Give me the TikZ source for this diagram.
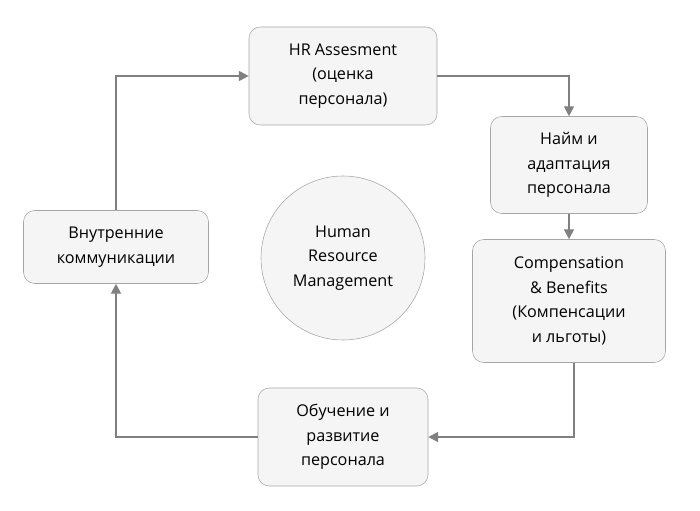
\documentclass[tikz,border=0pt]{standalone}
\usepackage{fontspec}
\setmainfont{Open Sans}
\usetikzlibrary{arrows.meta}
\tikzset{box/.style={rectangle, rounded corners=8pt, draw=gray!70, fill=gray!8, align=center, font=\fontsize{11.5}{17.5}\selectfont, inner sep=0pt},
arrow/.style={draw=gray, line width=1.4pt, -{Triangle[length=7pt,width=7pt]}}}
\begin{document}
\begin{tikzpicture}[x=0.025cm,y=-0.025cm]
\useasboundingbox (0,0) rectangle (700,511);
\node (hr) [box, minimum width=188*0.025cm, minimum height=98*0.025cm] at (343,76) {HR Assesment\\(оценка\\персонала)};
\node (hire) [box, minimum width=157*0.025cm, minimum height=97*0.025cm] at (569,165) {Найм и\\адаптация\\персонала};
\node (comp) [box, minimum width=193*0.025cm, minimum height=123*0.025cm] at (569,301) {Compensation\\\& Benefits\\(Компенсации\\и льготы)};
\node (train) [box, minimum width=170*0.025cm, minimum height=98*0.025cm] at (343,437) {Обучение и\\развитие\\персонала};
\node (comm) [box, minimum width=185*0.025cm, minimum height=73*0.025cm] at (116,247) {Внутренние\\коммуникации};
\node (hrm) [circle, draw=gray!70, fill=gray!8, minimum size=164*0.025cm, align=center, font=\fontsize{11.5}{17.5}\selectfont] at (343,258) {Human\\Resource\\Management};
\draw [arrow] (comm.north) |- (hr.west);
\draw [arrow] (hr.east) -| (hire.north);
\draw [arrow] (hire.south) -- (comp.north);
\draw [arrow] ([xshift=5*0.025cm]comp.south) |- (train.east);
\draw [arrow] (train.west) -| (comm.south);
\end{tikzpicture}
\end{document}
